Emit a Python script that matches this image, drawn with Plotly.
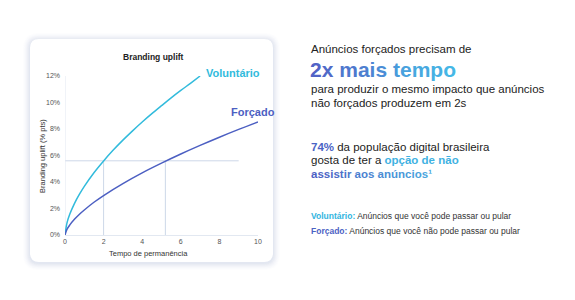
import plotly.graph_objects as go

# ---- data ----
x_vol = [0, 0.1, 0.25, 0.5, 0.75, 1, 1.5, 2, 2.5, 3, 3.5, 4, 4.5, 5, 5.5, 6, 6.5, 7]
y_vol = [0, 0.9, 1.58, 2.41, 3.08, 3.67, 4.70, 5.59, 6.41, 7.16, 7.86, 8.53, 9.16, 9.76, 10.35, 10.91, 11.45, 12.0]
x_for = [0, 0.1, 0.25, 0.5, 0.75, 1, 1.5, 2, 3, 4, 5, 6, 7, 8, 9, 10]
y_for = [0, 0.42, 0.76, 1.20, 1.57, 1.89, 2.47, 2.98, 3.88, 4.69, 5.42, 6.11, 6.76, 7.38, 7.97, 8.53]
ref_level = 5.6
t_vol = 2
t_for = 5.2
ref_end = 9
x_ticks = [0, 2, 4, 6, 8, 10]
y_ticks = [0, 2, 4, 6, 8, 10, 12]
y_tick_labels = ["0%", "2%", "4%", "6%", "8%", "10%", "12%"]

C_VOL = "#32bbdc"
C_FOR = "#4c5fc2"
C_REF = "#cdd8e8"
FONT = "Liberation Sans, Arial, Helvetica, sans-serif"

# plot area in pixels
L, R, T, B = 65, 258, 76, 235
W, H = 575, 300


def px(x):
    return (x - L) / (R - L)


def py(y):
    return (B - y) / (B - T)


def rrect(x0, y0, x1, y1, r):
    p = [
        ("M", [(x0 + r, y0)]),
        ("L", [(x1 - r, y0)]),
        ("Q", [(x1, y0), (x1, y0 + r)]),
        ("L", [(x1, y1 - r)]),
        ("Q", [(x1, y1), (x1 - r, y1)]),
        ("L", [(x0 + r, y1)]),
        ("Q", [(x0, y1), (x0, y1 - r)]),
        ("L", [(x0, y0 + r)]),
        ("Q", [(x0, y0), (x0 + r, y0)]),
    ]
    s = ""
    for cmd, pts in p:
        s += cmd + " " + " ".join(f"{px(a):.5f},{py(b):.5f}" for a, b in pts) + " "
    return s + "Z"


fig = go.Figure()

fig.add_trace(go.Scatter(x=x_vol, y=y_vol, mode="lines", line=dict(color=C_VOL, width=1.5, shape="spline"),
                         hoverinfo="skip", showlegend=False))
fig.add_trace(go.Scatter(x=x_for, y=y_for, mode="lines", line=dict(color=C_FOR, width=1.5, shape="spline"),
                         hoverinfo="skip", showlegend=False))

shapes = []
# card shadow + card
for i, op in zip([7, 6, 5, 4, 3, 2, 1], [0.025, 0.035, 0.045, 0.055, 0.065, 0.075, 0.085]):
    shapes.append(dict(type="path", xref="paper", yref="paper", layer="below",
                       path=rrect(30 - i, 39 - i + 1, 273 + i, 262 + i + 1, 9 + i),
                       fillcolor=f"rgba(175,188,215,{op})", line=dict(width=0)))
shapes.append(dict(type="path", xref="paper", yref="paper", layer="below",
                   path=rrect(30, 39, 273, 262, 9), fillcolor="white", line=dict(width=0)))
# reference lines
shapes.append(dict(type="line", xref="x", yref="y", x0=0, x1=ref_end, y0=ref_level, y1=ref_level,
                   line=dict(color=C_REF, width=1), layer="below"))
shapes.append(dict(type="line", xref="x", yref="y", x0=t_vol, x1=t_vol, y0=0, y1=ref_level,
                   line=dict(color=C_REF, width=1), layer="below"))
shapes.append(dict(type="line", xref="x", yref="y", x0=t_for, x1=t_for, y0=0, y1=ref_level,
                   line=dict(color=C_REF, width=1), layer="below"))
shapes.append(dict(type="line", xref="x", yref="y", x0=0, x1=0, y0=0, y1=12,
                   line=dict(color="#e2e8f1", width=1), layer="below"))

ann = []


def A(x, y, text, size, color="#222", xanchor="left", bold=False):
    ann.append(dict(xref="paper", yref="paper", x=px(x), y=py(y), text=("<b>%s</b>" % text) if bold else text,
                    showarrow=False, xanchor=xanchor, yanchor="middle",
                    font=dict(family=FONT, size=size, color=color)))


def grad(text, c0, c1):
    def h2r(h):
        return [int(h[i:i + 2], 16) for i in (1, 3, 5)]
    a, b = h2r(c0), h2r(c1)
    n = max(len(text) - 1, 1)
    out = ""
    for i, ch in enumerate(text):
        t = i / n
        c = "#%02x%02x%02x" % tuple(int(a[k] + (b[k] - a[k]) * t) for k in range(3))
        out += f"<span style='color:{c}'>{ch}</span>" if ch != " " else " "
    return out


# chart texts
A(153, 57, "Branding uplift", 8.5, "#222", "center", bold=True)
A(148.5, 253, "Tempo de permanência", 7.5, "#333", "center")
ann.append(dict(xref="paper", yref="paper", x=px(42), y=py(156), text="Branding uplift (% pts)",
                showarrow=False, textangle=-90, xanchor="center", yanchor="middle",
                font=dict(family=FONT, size=7.5, color="#333")))
A(204, 73, "Voluntário", 11, C_VOL, bold=True)
A(229, 112, "Forçado", 11, C_FOR, bold=True)

# right side texts
A(309, 49, "Anúncios forçados precisam de", 11.5, "#222")
A(308, 69, "<b>" + grad("2x mais tempo", "#5163c6", "#45b7e6") + "</b>", 21)
A(309, 89, "para produzir o mesmo impacto que anúncios", 11.5, "#222")
A(309, 103, "não forçados produzem em 2s", 11.5, "#222")
A(309, 147, "<b><span style='color:#4a63c5'>74%</span></b> da população digital brasileira", 11.5, "#222")
A(309, 160, "gosta de ter a <b><span style='color:#3fb2e2'>opção de não</span></b>", 11.5, "#222")
A(309, 174, "<b>" + grad("assistir aos anúncios¹", "#4d60c4", "#4aa9e0") + "</b>", 11.5)
A(309, 216, "<b><span style='color:#32b5e0'>Voluntário:</span></b> Anúncios que você pode passar ou pular", 8.5, "#333")
A(309, 231, "<b><span style='color:#4c62c4'>Forçado:</span></b> Anúncios que você não pode passar ou pular", 8.5, "#333")

fig.update_layout(
    width=W, height=H,
    margin=dict(l=L, r=W - R, t=T, b=H - B, pad=0),
    paper_bgcolor="white", plot_bgcolor="rgba(0,0,0,0)",
    shapes=shapes, annotations=ann,
    font=dict(family=FONT),
    xaxis=dict(range=[0, 10], tickvals=x_ticks, showgrid=False, zeroline=False,
               showline=True, linecolor="#e2e8f1", linewidth=1, ticks="",
               tickfont=dict(size=7, color="#555", family=FONT), fixedrange=True),
    yaxis=dict(range=[0, 12], tickvals=y_ticks, ticktext=y_tick_labels, showgrid=False, zeroline=False,
               showline=False, ticks="", ticklabelstandoff=4,
               tickfont=dict(size=7, color="#555", family=FONT), fixedrange=True),
)

fig.write_html("out.html", config={"displayModeBar": False})
